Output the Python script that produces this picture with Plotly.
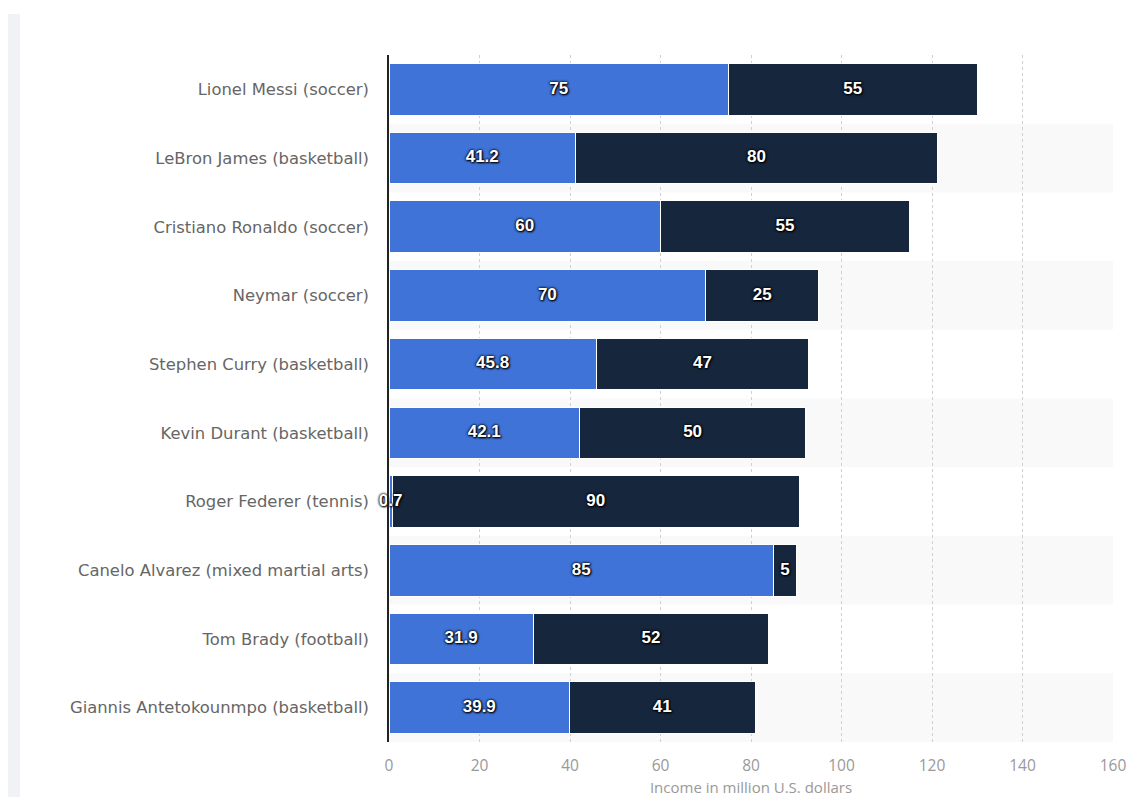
import plotly.graph_objects as go

athletes = [
    "Lionel Messi (soccer)",
    "LeBron James (basketball)",
    "Cristiano Ronaldo (soccer)",
    "Neymar (soccer)",
    "Stephen Curry (basketball)",
    "Kevin Durant (basketball)",
    "Roger Federer (tennis)",
    "Canelo Alvarez (mixed martial arts)",
    "Tom Brady (football)",
    "Giannis Antetokounmpo (basketball)",
]
salary = [75, 41.2, 60, 70, 45.8, 42.1, 0.7, 85, 31.9, 39.9]
endorsements = [55, 80, 55, 25, 47, 50, 90, 5, 52, 41]
x_ticks = [0, 20, 40, 60, 80, 100, 120, 140, 160]

BLUE = "#3f73d8"
NAVY = "#16263d"
label_font = dict(family="Liberation Sans", size=17, color="white", weight="bold",
                  shadow="0px 0px 2px #000, 0px 0px 3px #000, 1px 1px 2px #000")

fig = go.Figure()
fig.add_trace(go.Bar(
    y=athletes, x=salary, orientation="h", name="Salary",
    marker=dict(color=BLUE, line=dict(color="white", width=1)),
    width=0.75, hoverinfo="skip"))
fig.add_trace(go.Bar(
    y=athletes, x=endorsements, orientation="h", name="Endorsements",
    marker=dict(color=NAVY, line=dict(color="white", width=1)),
    width=0.75, hoverinfo="skip"))

# value labels centered on each segment
fig.add_trace(go.Scatter(
    y=athletes, x=[s / 2 for s in salary], mode="text",
    text=[f"{s:g}" for s in salary], textfont=label_font,
    textposition="middle center", hoverinfo="skip", cliponaxis=False))
fig.add_trace(go.Scatter(
    y=athletes, x=[s + e / 2 for s, e in zip(salary, endorsements)], mode="text",
    text=[f"{e:g}" for e in endorsements], textfont=label_font,
    textposition="middle center", hoverinfo="skip", cliponaxis=False))

L, R, T, B = 381, 21, 47, 55
W, H = 1126, 789
PW, PH = W - L - R, H - T - B

shapes = []
for i in range(1, len(athletes), 2):
    shapes.append(dict(type="rect", xref="x domain", yref="y",
                       x0=0, x1=1, y0=i - 0.5, y1=i + 0.5,
                       fillcolor="#f9f9f9", line=dict(width=0), layer="below"))
# page side strip
shapes.append(dict(type="rect", xref="paper", yref="paper",
                   x0=(0 - L) / PW, x1=(12 - L) / PW,
                   y0=-B / PH, y1=(H - 6 - B) / PH,
                   fillcolor="#f1f2f5", line=dict(width=0), layer="below"))

fig.update_layout(
    barmode="stack",
    width=W, height=H,
    margin=dict(l=L, r=R, t=T, b=B, autoexpand=False),
    paper_bgcolor="white", plot_bgcolor="white",
    showlegend=False,
    shapes=shapes,
    font=dict(family="DejaVu Sans", color="#666"),
)
fig.update_xaxes(
    range=[0, 160], tickvals=x_ticks, showgrid=True, gridcolor="#d0d0d0",
    griddash="dot", gridwidth=1, zeroline=False, automargin=False,
    tickfont=dict(family="Open Sans", size=15.5, color="#999"),
    ticklabelstandoff=12,
    title=dict(text="Income in million U.S. dollars",
               font=dict(family="Open Sans", size=15, color="#999"), standoff=13),
    fixedrange=True,
)
fig.update_yaxes(
    categoryorder="array", categoryarray=athletes, autorange="reversed",
    showline=True, linecolor="#222", linewidth=1.5, automargin=False,
    tickfont=dict(family="DejaVu Sans", size=16.4, color="#666"),
    ticklabelstandoff=15, showgrid=False, fixedrange=True,
)

fig.write_html("out.html")
